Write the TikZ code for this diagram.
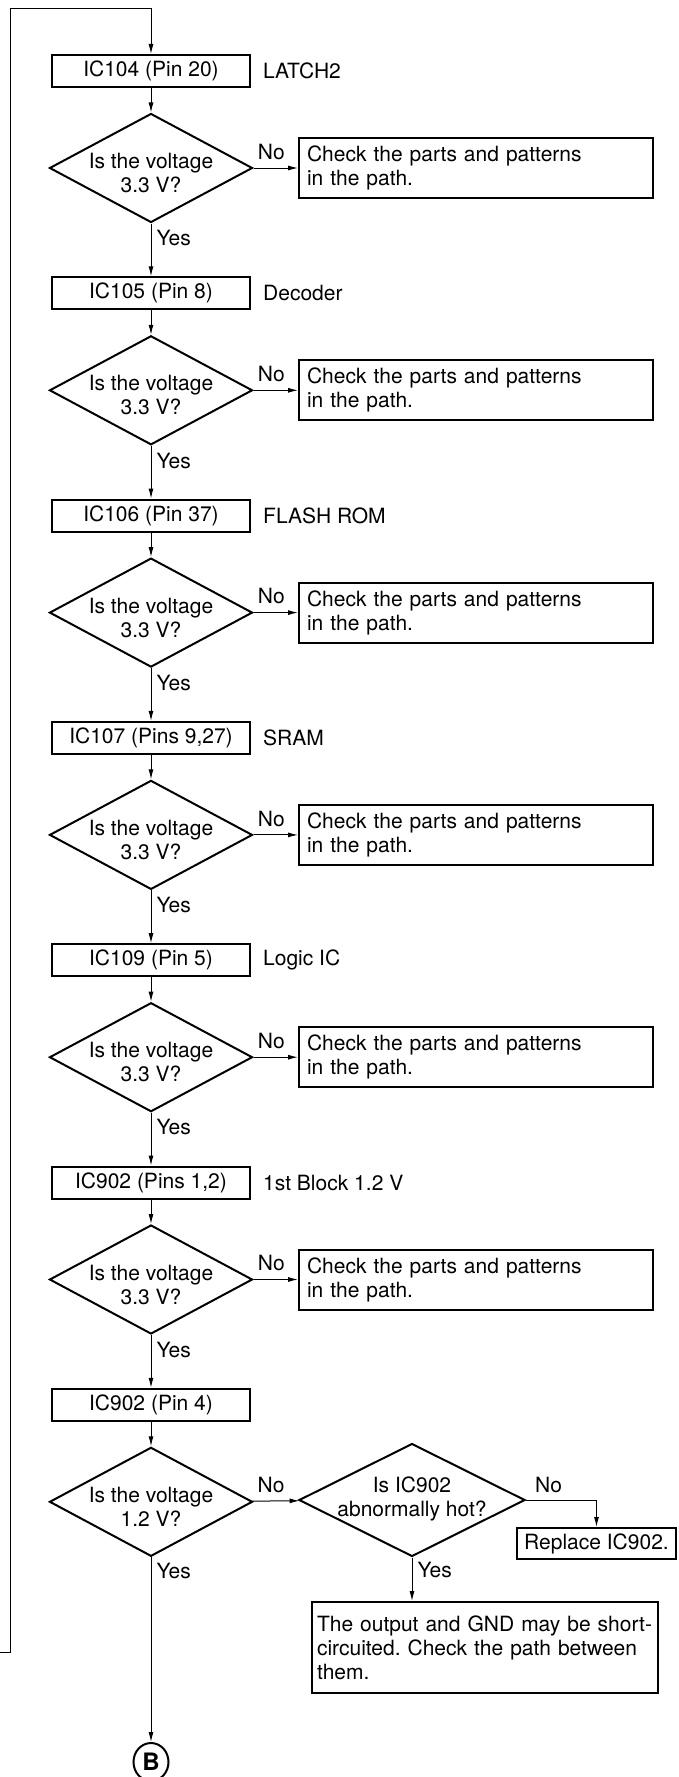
\documentclass[tikz,border=0pt]{standalone}
\usepackage{fontspec}
\setmainfont{TeX Gyre Heros}
\usetikzlibrary{shapes.geometric,arrows.meta}
\frenchspacing

\tikzset{
  arr/.style={-{Latex[length=10pt,width=5pt]}, line width=1pt},
  stepbox/.style={draw, line width=2pt, minimum width=198pt, minimum height=32pt, inner sep=0pt},
  decision/.style={diamond, draw, line width=2pt, minimum width=203pt, minimum height=109pt, inner sep=0pt},
  checkbox/.style={draw, line width=2pt, text width=338pt, inner xsep=8pt, inner ysep=0pt,
    minimum height=60pt, align=left},
  dtext/.style={align=center, inner sep=0pt},
  tag/.style={inner sep=0pt},
}

\begin{document}
\begin{tikzpicture}[x=1pt, y=-1pt, font=\fontsize{21}{24}\selectfont]
    \useasboundingbox (0,0) rectangle (678,1777);

    % Test points, one block each
    \foreach \name/\side/\volt [count=\i from 0] in {IC104 (Pin 20)/LATCH2/3.3,
        IC105 (Pin 8)/Decoder/3.3, IC106 (Pin 37)/FLASH ROM/3.3, {IC107 (Pins 9,27)}/SRAM/3.3,
        IC109 (Pin 5)/Logic IC/3.3, {IC902 (Pins 1,2)}/1st Block 1.2 V/3.3, IC902 (Pin 4)//1.2} {
        \node[stepbox] (b\i) at (151, {71+222.3*\i}) {\name};
        \node[tag, anchor=west] (s\i) at (263, {71+222.3*\i}) {\side};
        \node[decision] (d\i) at (151, {168+222.3*\i}) {};
        \node[dtext] (t\i) at (151, {173+222.3*\i}) {Is the voltage\\\volt\ V?};
        \draw[arr] (b\i) -- (d\i);
        \ifnum\i<6
            \node[checkbox] (c\i) at (476, {168+222.3*\i}) {Check the parts and patterns\\in the path.};
            \draw[arr] (d\i) -- node[tag, above=8pt, pos=0.4] (n\i) {No} (c\i);
        \fi
        \ifnum\i>0
            \pgfmathtruncatemacro\prev{\i-1}
            \draw[arr] (d\prev) -- node[tag, right=5pt, pos=0.28] (y\i) {Yes} (b\i);
        \fi
    }

    % Return line from the left
    \coordinate (loopin) at (0,1652);
    \coordinate (looptop) at (10,9);
    \draw[arr] (loopin) -- (looptop |- loopin) -- (looptop) -| (b0.north);

    % IC902 check
    \node[decision, minimum width=226pt, minimum height=113pt] (h) at (412,1500) {};
    \node[dtext] (ht) at (412,1499) {Is IC902\\abnormally hot?};
    \draw[arr] (d6) -- node[tag, above=8pt, pos=0.4] (n6) {No} (h);
    \node[stepbox, minimum width=159pt, minimum height=31pt] (rep) at (596.5,1543.5) {Replace IC902.};
    \draw[arr] (h.east) -| node[tag, above=7pt, pos=0.16] (hn) {No} (rep.north);
    \node[checkbox, text width=336pt, inner xsep=5pt, minimum height=91pt] (res) at (485,1647.5)
        {The output and GND may be short-\\circuited. Check the path between\\them.};
    \draw[arr] (h.south) -- node[tag, right=5pt, pos=0.29] (hy) {Yes} (h.south |- res.north);

    % Exit to B
    \node[ellipse, draw, line width=2pt, minimum width=35pt, minimum height=38pt, inner sep=0pt,
        font=\fontsize{24}{24}\bfseries] (bee) at (151,1762) {B};
    \draw[arr] (d6) -- node[tag, right=5pt, pos=0.075] (y7) {Yes} (bee);
\end{tikzpicture}
\end{document}
